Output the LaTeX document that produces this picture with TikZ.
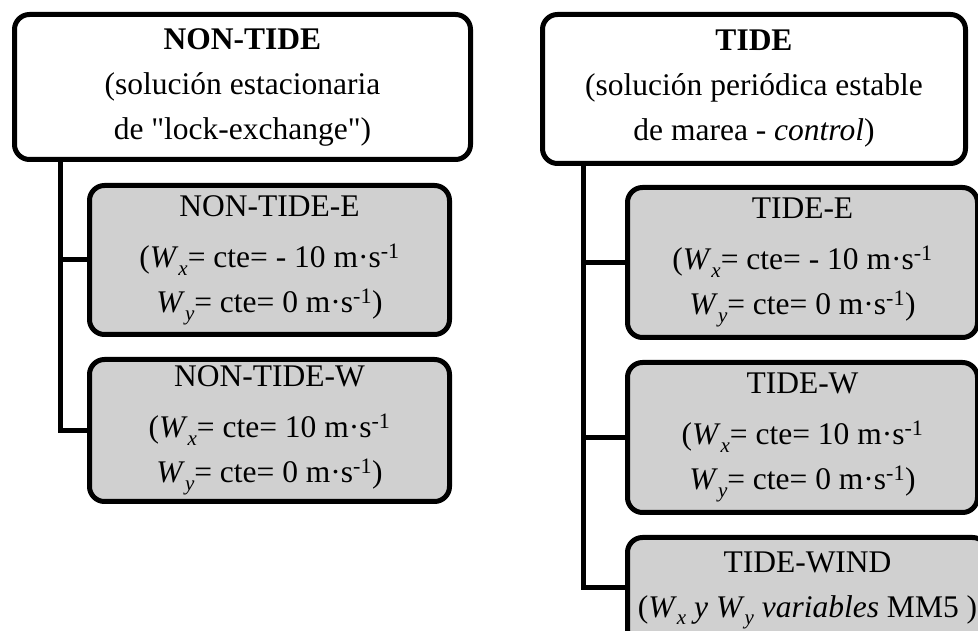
\documentclass[tikz,border=0pt]{standalone}
\usepackage{fontspec}
\setmainfont{Liberation Serif}
\usetikzlibrary{positioning}
\definecolor{boxgray}{RGB}{208,208,208}
\newcommand{\lowsub}[1]{\raisebox{-0.25em}{\fontsize{21pt}{21pt}\selectfont\textit{#1}}}
\newcommand{\Wx}{\textit{W}\lowsub{x}}
\newcommand{\Wy}{\textit{W}\lowsub{y}}
\newcommand{\msu}{m·s\textsuperscript{-1}}

\begin{document}
\begin{tikzpicture}[x=1pt, y=1pt, font=\fontsize{31.5pt}{45pt}\selectfont]%

            \tikzstyle{top} = [ rectangle, rounded corners = 15pt, line width = 5pt, draw = black, fill = white, align = center, anchor = north west, inner sep = 0pt]
            \tikzstyle{sub} = [ rectangle, rounded corners = 15pt, line width = 5pt, draw = black, fill = boxgray, align = center, anchor = north west, inner sep = 0pt]
            \tikzstyle{conn} = [ line width = 5pt, line cap = rect]
        %%
            \useasboundingbox (0,0) rectangle (978,631);
            \clip (0,0) rectangle (978,631);
            \begin{scope}%
                %% NON-TIDE
                \node [top, minimum width = 456pt, minimum height = 145pt] (nontide) at (12,619)
                    {\textbf{NON-TIDE}\\(solución estacionaria\\de \textquotedbl lock-exchange\textquotedbl)};
                \node [sub, minimum width = 360pt, minimum height = 149pt] (nte) at (87,448)
                    {NON-TIDE-E\\[6pt](\Wx= cte= - 10 \msu\\\Wy= cte= 0 \msu)};
                \node [sub, minimum width = 360pt, minimum height = 142pt] (ntw) at (87,274)
                    {NON-TIDE-W\\[6pt](\Wx= cte= 10 \msu\\\Wy= cte= 0 \msu)};

                \coordinate (ntrunk) at ([xshift = 48pt]nontide.south west);
                \draw[conn] (ntrunk) |- (nte.west);
                \draw[conn] (ntrunk) |- (ntw.west);

                %% TIDE
                \node [top, minimum width = 423pt, minimum height = 149pt] (tide) at (540,619)
                    {\textbf{TIDE}\\(solución periódica estable\\de marea - \textit{control})};
                \node [sub, minimum width = 350pt, minimum height = 150pt] (te) at (625,446)
                    {TIDE-E\\[6pt](\Wx= cte= - 10 \msu\\\Wy= cte= 0 \msu)};
                \node [sub, minimum width = 350pt, minimum height = 150pt] (tw) at (625,271)
                    {TIDE-W\\[6pt](\Wx= cte= 10 \msu\\\Wy= cte= 0 \msu)};
                \node [sub, minimum width = 360pt, minimum height = 106pt] (twind) at (625,96)
                    {TIDE-WIND\\(\Wx{} \textit{y} \Wy{} \textit{variables} MM5 )};

                \coordinate (rtrunk) at ([xshift = 43pt]tide.south west);
                \draw[conn] (rtrunk) |- (te.west);
                \draw[conn] (rtrunk) |- (tw.west);
                \draw[conn] (rtrunk) |- ([yshift = 3pt]twind.west);
            \end{scope}%
        \end{tikzpicture}
\end{document}
